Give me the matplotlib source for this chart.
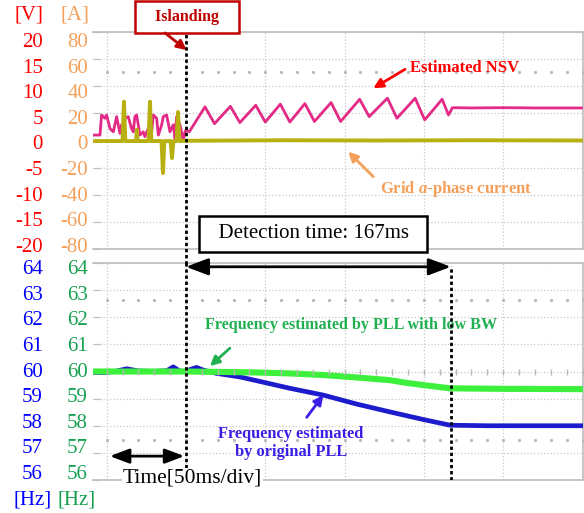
import matplotlib
matplotlib.use('Agg')
import matplotlib.pyplot as plt
import numpy as np

plt.rcParams['font.family'] = ['Liberation Serif', 'DejaVu Serif']
plt.rcParams['axes.unicode_minus'] = False
plt.rcParams['mathtext.fontset'] = 'custom'
plt.rcParams['mathtext.it'] = 'Liberation Serif:italic:bold'
plt.rcParams['mathtext.rm'] = 'Liberation Serif:bold'

# time axis in ms, islanding at t = 0, 50 ms/div
t_min, t_max = -58.6, 250.3
div_ticks = [-50, 0, 50, 100, 150, 200, 250]
t_detect = 167

# upper panel: estimated NSV [V] and grid a-phase current [A]
v_ticks = [-20, -15, -10, -5, 0, 5, 10, 15, 20]
a_ticks = [-80, -60, -40, -20, 0, 20, 40, 60, 80]

nsv_t = [-58.6, -54.2, -53.2, -51.1, -50.0, -47.9, -45.8, -43.7, -41.6, -40.6,
         -39.5, -38.5, -36.4, -34.3, -33.2, -32.2, -31.1, -29.0, -26.9, -25.9,
         -23.8, -22.7, -21.6, -20.6, -18.5, -17.4, -15.3, -14.3, -12.2, -10.1,
         -8.0, -6.9, -5.9, -3.8, -1.7, -0.6,
         0, 2.1, 12, 18, 28, 34, 44, 50, 59.5, 65.5, 75, 81, 91.5, 97.5,
         109.5, 115.5, 127, 133, 144.5, 150.5, 161.5, 165.5, 168, 180, 200, 220, 250.3]
nsv_v = [1.0, 1.0, 4.7, 4.1, 4.7, 2.2, 1.6, 4.4, 1.3, 2.9,
         0.7, 4.1, 4.4, 2.2, 1.6, 4.4, 4.7, 1.0, 1.6, 0.7,
         2.2, 3.2, 1.6, 4.7, 4.1, 1.0, 2.9, 4.4, 4.7, 1.6,
         2.9, 0.4, 4.4, 2.9, 0.1, 1.6,
         1.9, 1.6, 6.2, 3.1, 6.3, 3.3, 6.5, 3.4, 6.7, 3.4, 6.8, 3.5, 7.0, 3.5,
         7.6, 4.4, 7.8, 4.1, 7.8, 3.8, 7.6, 4.7, 6.05, 6.0, 6.05, 6.0, 6.0]

cur_t = [-58.6, -40.0, -39.1, -38.2, -31.5, -31.0, -30.5, -23.6, -22.7, -21.8,
         -15.4, -14.5, -13.6, -9.7, -8.8, -7.9, -5.9, -5.0, -4.1, 0, 60, 120, 180, 250.3]
cur_a = [-0.4, -0.4, 28.6, -0.4, -0.4, 8.0, -0.4, -0.4, 28.6, -0.4,
         -0.4, -24.0, -0.4, -0.4, -13.0, -0.4, -0.4, 21.0, -0.4, -0.2, 0.2, 0.0, 0.2, 0.0]

# lower panel: estimated frequency [Hz]
hz_ticks = [56, 57, 58, 59, 60, 61, 62, 63, 64]

pll_t = [-58.6, -52, -45, -37.4, -30, -20, -12, -8, -4, 0, 3, 6.7, 11, 19.3, 34,
         44.6, 65.6, 86.6, 107.6, 128.6, 149.6, 166.5, 190, 220, 250.3]
pll_hz = [59.97, 59.96, 60.0, 60.1, 60.02, 60.0, 60.03, 60.17, 60.02, 60.0, 60.08,
          60.15, 60.05, 59.93, 59.80, 59.66, 59.38, 59.13, 58.80, 58.51, 58.23,
          58.02, 58.0, 58.0, 58.0]

low_t = [-58.6, 0, 40, 65.6, 86.6, 107.6, 128.6, 139, 149.6, 166.5, 200, 250.3]
low_hz = [60.0, 60.0, 59.97, 59.93, 59.87, 59.78, 59.68, 59.58, 59.50, 59.38, 59.36, 59.35]

RED = '#ff0000'
ORANGE = '#f5a05a'
BLUE = '#0000ff'
GREEN = '#15a050'
GRID = '#c8c8c8'
FRAME = '#bdbdbd'

fig = plt.figure(figsize=(5.84, 5.13), dpi=100)
ax_v = fig.add_axes([93/584, 1-249/513, 490/584, 217/513])
ax_f = fig.add_axes([93/584, 1-480/513, 490/584, 217/513])


def style_panel(ax, ticks):
    ax.set_xlim(t_min, t_max)
    ax.set_xticks(div_ticks)
    ax.tick_params(axis='x', length=0, labelbottom=False)
    ax.set_yticks(ticks)
    ax.tick_params(axis='y', direction='in', length=5, color=FRAME, labelleft=False)
    ax.spines['left'].set_visible(False)
    for s in ['top', 'right', 'bottom']:
        ax.spines[s].set_color(FRAME)
        ax.spines[s].set_linewidth(1.2)
    ax.grid(True, color=GRID, ls=':', lw=0.9)


def twin_left(ax, lims, ticks=None, color='k', pad=3.6):
    tw = ax.twinx()
    tw.set_ylim(*lims)
    tw.set_xlim(t_min, t_max)
    tw.yaxis.set_ticks_position('left')
    if ticks is None:
        tw.set_yticks([])
    else:
        tw.set_yticks(ticks)
    tw.tick_params(axis='y', length=0, labelcolor=color, labelsize=15, pad=pad)
    for s in tw.spines.values():
        s.set_visible(False)
    return tw


# ---- upper panel
ax_v.set_ylim(-20, 20)
style_panel(ax_v, v_ticks)
# label columns sit slightly inside the divisions, as in the scope capture
twin_left(ax_v, (-20.78, 21.56), v_ticks, RED, 36)
twin_left(ax_v, (-83.1, 86.2), a_ticks, ORANGE, 3.6)
ax_a = twin_left(ax_v, (-80, 80))

minor_t = np.arange(-50, 251, 10)
ax_a.plot(minor_t, [50.4] * len(minor_t), ls='none', marker='s', ms=1.1,
          color='#b8b8b8', zorder=1)

ax_v.plot(nsv_t, nsv_v, color='#e32a86', lw=2.0, zorder=3)
ax_a.plot(cur_t, cur_a, color='#b8b010', lw=2.8, zorder=2)

ax_a.axvline(0, ymin=-0.07, ymax=1, color='k', ls=(0, (1.2, 1.0)), lw=2,
             clip_on=False, zorder=5)

ax_a.annotate('   Islanding   ', xy=(0.6, 91.1), ha='center', va='center',
              fontsize=11.5, fontweight='bold', color='#c00000', annotation_clip=False,
              bbox=dict(boxstyle='square,pad=0.5', fc='white', ec='#c00000', lw=1.8))
ax_a.annotate('', xy=(0.4, 66.7), xytext=(-13.2, 79.3), annotation_clip=False,
              arrowprops=dict(arrowstyle='-|>', color='#c00000', lw=2, mutation_scale=14,
                              shrinkA=0, shrinkB=0))

ax_a.annotate('Estimated NSV', xy=(141.2, 53.2), ha='left', va='center',
              fontsize=12, fontweight='bold', color=RED)
ax_a.annotate('', xy=(118.1, 38.5), xytext=(138.1, 52.5),
              arrowprops=dict(arrowstyle='-|>', color=RED, lw=2, mutation_scale=14,
                              shrinkA=0, shrinkB=0))

ax_a.annotate('Grid $\\mathit{a}$-phase current', xy=(122.3, -35.8), ha='left',
              va='center', fontsize=12, fontweight='bold', color=ORANGE)
ax_a.annotate('', xy=(102.3, -8.3), xytext=(118.1, -26.7),
              arrowprops=dict(arrowstyle='-|>', color=ORANGE, lw=2, mutation_scale=14,
                              shrinkA=0, shrinkB=0))

ax_a.annotate('  Detection time: 167ms  ', xy=(80.3, -68.7), ha='center', va='center',
              fontsize=15, color='k', annotation_clip=False, zorder=6,
              bbox=dict(boxstyle='square,pad=0.4', fc='white', ec='k', lw=1.8))

# ---- lower panel
ax_f.set_ylim(56, 64)
style_panel(ax_f, hz_ticks)
twin_left(ax_f, (55.688, 64.156), hz_ticks, BLUE, 36)
twin_left(ax_f, (55.688, 64.156), hz_ticks, GREEN, 3.6)
ax_g = twin_left(ax_f, (56, 64))

for row in [62.64, 57.47]:
    ax_g.plot(minor_t, [row] * len(minor_t), ls='none', marker='s', ms=1.1,
              color='#b8b8b8', zorder=1)
ax_g.plot(minor_t, [60.0] * len(minor_t), ls='none', marker='|', ms=4,
          color='#b8b8b8', zorder=1)

ax_f.plot(pll_t, pll_hz, color='#1c1ccc', lw=3.4, zorder=3)
ax_f.plot(low_t, low_hz, color='#3cf03c', lw=4.4, zorder=4)

ax_g.axvline(0, color='k', ls=(0, (1.2, 1.0)), lw=2, zorder=5)
ax_g.axvline(t_detect, ymin=0, ymax=0.985, color='k', ls=(0, (1.2, 1.0)), lw=2, zorder=5)

ax_g.annotate('', xy=(t_detect, 63.86), xytext=(0, 63.86),
              arrowprops=dict(arrowstyle='<|-|>,head_length=0.45,head_width=0.17',
                              color='k', lw=2, mutation_scale=30, shrinkA=0, shrinkB=0))

ax_g.annotate('Frequency estimated by PLL with low BW', xy=(104, 61.71), ha='center',
              va='center', fontsize=11.6, fontweight='bold', color='#20b050')
ax_g.annotate('', xy=(15.1, 60.2), xytext=(27.7, 60.86),
              arrowprops=dict(arrowstyle='-|>', color='#20b050', lw=2, mutation_scale=14,
                              shrinkA=0, shrinkB=0))

ax_g.annotate('Frequency estimated\nby original PLL', xy=(66.2, 57.36), ha='center',
              va='center', fontsize=11.8, fontweight='bold', color='#3a1ee6',
              linespacing=1.2)
ax_g.annotate('', xy=(86.6, 59.13), xytext=(76.1, 58.31),
              arrowprops=dict(arrowstyle='-|>', color='#3a1ee6', lw=2, mutation_scale=14,
                              shrinkA=0, shrinkB=0))

ax_g.annotate('', xy=(-1, 56.88), xytext=(-48, 56.88),
              arrowprops=dict(arrowstyle='<|-|>,head_length=0.45,head_width=0.17',
                              color='k', lw=2, mutation_scale=26, shrinkA=0, shrinkB=0))
ax_g.annotate('Time[50ms/div]', xy=(-39.7, 56.07), ha='left', va='center',
              fontsize=15.5, color='k', annotation_clip=False, zorder=7,
              bbox=dict(boxstyle='square,pad=0.05', fc='white', ec='none'))

# unit labels
fig.text(29/584, 1-15/513, '[V]', color=RED, fontsize=15, ha='center', va='center')
fig.text(75/584, 1-15/513, '[A]', color=ORANGE, fontsize=15, ha='center', va='center')
fig.text(33/584, 1-500/513, '[Hz]', color=BLUE, fontsize=15, ha='center', va='center')
fig.text(77/584, 1-500/513, '[Hz]', color=GREEN, fontsize=15, ha='center', va='center')

fig.savefig('out.png', dpi=100, facecolor='white')
